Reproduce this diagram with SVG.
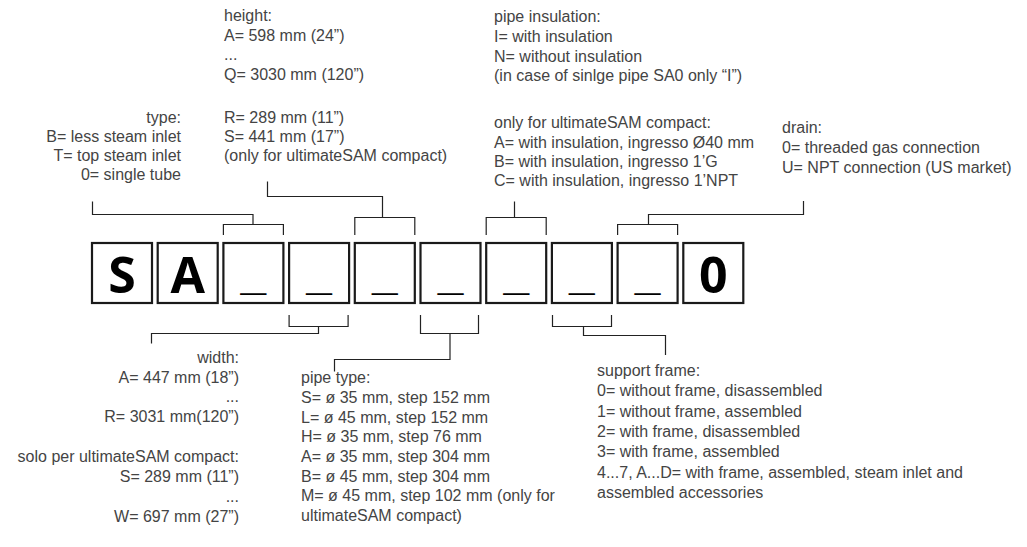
<svg xmlns="http://www.w3.org/2000/svg" width="1027" height="547" viewBox="0 0 1027 547">
<style>
.t{font-family:"Liberation Sans",Arial,sans-serif;font-size:16px;fill:#444}
.e{text-anchor:end}
.box{fill:#fff;stroke:#1a1a1a;stroke-width:2.2}
.big{font-family:"Open Sans","Liberation Sans",sans-serif;font-size:50px;font-weight:700;fill:#000;text-anchor:middle}
.us{font-family:"Liberation Sans",sans-serif;font-size:46px;font-weight:700;fill:#000;text-anchor:middle}
.c{fill:none;stroke:#222;stroke-width:1.2}
</style>
<rect width="1027" height="547" fill="#fff"/>
<g id="boxes">
<g id="box1"><rect class="box" x="92" y="243" width="60" height="60"/><text class="big" x="122" y="293">S</text></g>
<g id="box2"><rect class="box" x="157.7" y="243" width="60" height="60"/><text class="big" x="187.7" y="293">A</text></g>
<g id="box3"><rect class="box" x="223.4" y="243" width="60" height="60"/><text class="us" x="253.4" y="289">_</text></g>
<g id="box4"><rect class="box" x="289.1" y="243" width="60" height="60"/><text class="us" x="319.1" y="289">_</text></g>
<g id="box5"><rect class="box" x="354.8" y="243" width="60" height="60"/><text class="us" x="384.8" y="289">_</text></g>
<g id="box6"><rect class="box" x="420.5" y="243" width="60" height="60"/><text class="us" x="450.5" y="289">_</text></g>
<g id="box7"><rect class="box" x="486.2" y="243" width="60" height="60"/><text class="us" x="516.2" y="289">_</text></g>
<g id="box8"><rect class="box" x="551.9" y="243" width="60" height="60"/><text class="us" x="581.9" y="289">_</text></g>
<g id="box9"><rect class="box" x="617.6" y="243" width="60" height="60"/><text class="us" x="647.6" y="289">_</text></g>
<g id="box10"><rect class="box" x="683.3" y="243" width="60" height="60"/><text class="big" x="713.3" y="293">0</text></g>
</g>
<g id="connectors">
<path class="c" d="M92.5 201.5V214.5H253V224.5M223.4 235V224.5H283.4V235"/>
<path class="c" d="M267.5 181.5V196.5H382.5V217.5M354.8 235V217.5H414.8V235"/>
<path class="c" d="M514.5 201.5V217.5M486.2 235V217.5H546.2V235"/>
<path class="c" d="M803.5 201V214.5H648.5V224.5M617.6 235V224.5H677.6V235"/>
<path class="c" d="M289.1 315V326.5H348.1V315M318.5 326.5V333.5H151.5V343.5"/>
<path class="c" d="M420.5 315V333.5H478.5V315M450 333.5V359.5H334.5V371.5"/>
<path class="c" d="M552.5 315V326.5H611.5V315M583.5 326.5V335.5H665.5V355"/>
</g>
<g id="type">
<text class="t e" x="181" y="123">type:</text>
<text class="t e" x="181" y="142">B= less steam inlet</text>
<text class="t e" x="181" y="161">T= top steam inlet</text>
<text class="t e" x="181" y="180">0= single tube</text>
</g>
<g id="height">
<text class="t" x="224" y="21">height:</text>
<text class="t" x="224" y="41">A= 598 mm (24”)</text>
<text class="t" x="224" y="60">...</text>
<text class="t" x="224" y="80">Q= 3030 mm (120”)</text>
<text class="t" x="224" y="123">R= 289 mm (11”)</text>
<text class="t" x="224" y="142">S= 441 mm (17”)</text>
<text class="t" x="224" y="161">(only for ultimateSAM compact)</text>
</g>
<g id="insulation">
<text class="t" x="494" y="22">pipe insulation:</text>
<text class="t" x="494" y="42">I= with insulation</text>
<text class="t" x="494" y="62">N= without insulation</text>
<text class="t" x="494" y="81">(in case of sinlge pipe SA0 only “I”)</text>
<text class="t" x="494" y="128">only for ultimateSAM compact:</text>
<text class="t" x="494" y="148">A= with insulation, ingresso Ø40 mm</text>
<text class="t" x="494" y="167">B= with insulation, ingresso 1’G</text>
<text class="t" x="494" y="186">C= with insulation, ingresso 1’NPT</text>
</g>
<g id="drain">
<text class="t" x="782" y="133">drain:</text>
<text class="t" x="782" y="153">0= threaded gas connection</text>
<text class="t" x="782" y="173">U= NPT connection (US market)</text>
</g>
<g id="width">
<text class="t e" x="239" y="363">width:</text>
<text class="t e" x="239" y="383">A= 447 mm (18”)</text>
<text class="t e" x="239" y="402">...</text>
<text class="t e" x="239" y="422">R= 3031 mm(120”)</text>
<text class="t e" x="239" y="462">solo per ultimateSAM compact:</text>
<text class="t e" x="239" y="482">S= 289 mm (11”)</text>
<text class="t e" x="239" y="502">...</text>
<text class="t e" x="239" y="522">W= 697 mm (27”)</text>
</g>
<g id="pipetype">
<text class="t" x="301" y="383">pipe type:</text>
<text class="t" x="301" y="403">S= ø 35 mm, step 152 mm</text>
<text class="t" x="301" y="423">L= ø 45 mm, step 152 mm</text>
<text class="t" x="301" y="442">H= ø 35 mm, step 76 mm</text>
<text class="t" x="301" y="462">A= ø 35 mm, step 304 mm</text>
<text class="t" x="301" y="482">B= ø 45 mm, step 304 mm</text>
<text class="t" x="301" y="501">M= ø 45 mm, step 102 mm (only for</text>
<text class="t" x="301" y="521">ultimateSAM compact)</text>
</g>
<g id="support">
<text class="t" x="597" y="376">support frame:</text>
<text class="t" x="597" y="396">0= without frame, disassembled</text>
<text class="t" x="597" y="417">1= without frame, assembled</text>
<text class="t" x="597" y="437">2= with frame, disassembled</text>
<text class="t" x="597" y="457">3= with frame, assembled</text>
<text class="t" x="597" y="478">4...7, A...D= with frame, assembled, steam inlet and</text>
<text class="t" x="597" y="498">assembled accessories</text>
</g>
</svg>
